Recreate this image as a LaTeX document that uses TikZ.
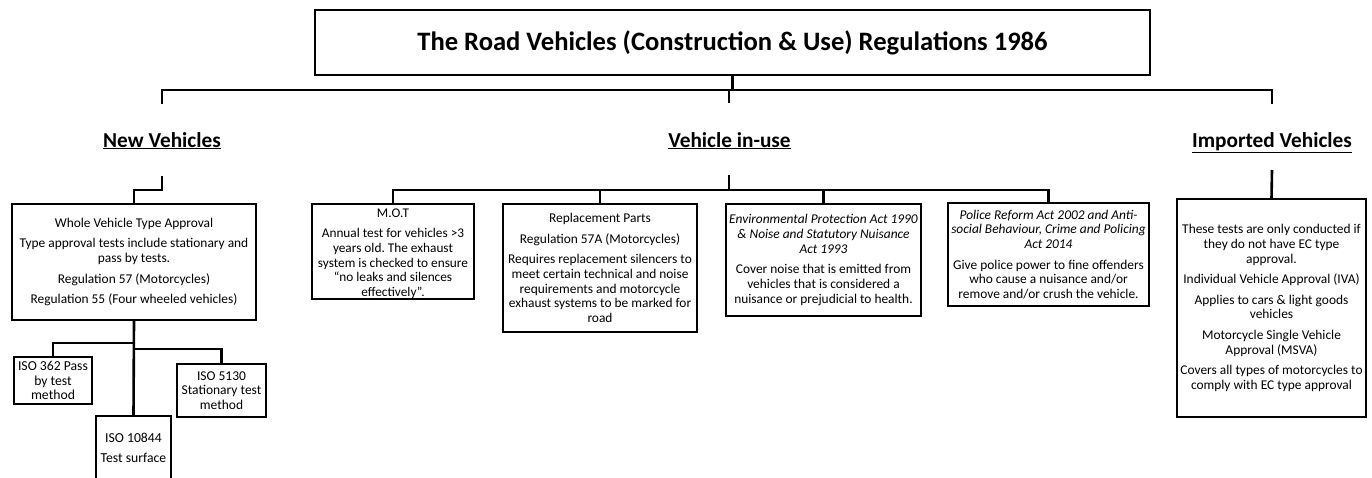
\documentclass[tikz,border=0pt]{standalone}
\usepackage{fontspec}
\setmainfont{Carlito}
\frenchspacing
\tikzset{
  box/.style={draw, line width=2.4pt, inner sep=0pt, align=center,
    font=\fontsize{13.4}{14.75}\selectfont},
  conn/.style={line width=2.6pt},
  head/.style={inner sep=0pt, anchor=base, font=\fontsize{21.3}{24}\selectfont\bfseries},
}
\newcommand{\pg}{\\[5.75pt]}
\begin{document}
\begin{tikzpicture}[x=1pt, y=-1pt]
\useasboundingbox (0,0) rectangle (1372,477);
% title
\node[box, minimum width=835, minimum height=65, font=\fontsize{26.6}{30}\selectfont\bfseries] (title) at (732.5,42.5)
  {The Road Vehicles (Construction \& Use) Regulations 1986};
% headings
\node[head] (nv) at (162,147) {\underline{New Vehicles}};
\node[head] (viu) at (729.5,147) {\underline{Vehicle in-use}};
\node[head] (iv) at (1272,147) {\underline{Imported Vehicles}};
% top bar
\coordinate (h1) at (162,90);
\coordinate (h2) at (729,90);
\coordinate (h3) at (1272,90);
\coordinate (d1) at (162,104);
\coordinate (d2) at (729,103);
\coordinate (d3) at (1272,104);
\draw[conn] (title.south) -- (title.south |- h1);
\draw[conn] (d1) -- (h1) -- (h3) -- (d3);
\draw[conn] (h2) -- (d2);
% new vehicles
\node[box, minimum width=244, minimum height=116] (wvta) at (134,262)
  {Whole Vehicle Type Approval\pg
   Type approval tests include stationary and\\ pass by tests.\pg
   Regulation 57 (Motorcycles)\pg
   Regulation 55 (Four wheeled vehicles)};
\node[box, minimum width=78, minimum height=47, font=\fontsize{13.7}{14.75}\selectfont] (iso362) at (53,380.5)
  {ISO 362 Pass\\by test\\method};
\node[box, minimum width=75, minimum height=64, font=\fontsize{13.7}{14.75}\selectfont] (iso10844) at (133.5,448)
  {ISO 10844\pg Test surface};
\node[box, minimum width=89, minimum height=53, font=\fontsize{13.5}{14.75}\selectfont] (iso5130) at (221.5,390.5)
  {ISO 5130\\Stationary test\\method};
\coordinate (nvb) at (162,176);
\draw[conn] (nvb) -- ++(0,14) -| (wvta.north);
\coordinate (b1) at (0,343);
\coordinate (b2) at (0,349);
\draw[conn] (wvta.south) -- (iso10844.north);
\draw[conn] (wvta.south |- b1) -| (iso362.north);
\draw[conn] (wvta.south |- b2) -| (iso5130.north);
% vehicle in-use
\node[box, minimum width=162, minimum height=95, font=\fontsize{13.3}{14.75}\selectfont] (mot) at (393,251.5)
  {\rule{0pt}{13pt}M.O.T\pg
   Annual test for vehicles >3\\ years old. The exhaust\\ system is checked to ensure\\
   “no leaks and silences\\ effectively”.};
\node[box, minimum width=194, minimum height=128] (rep) at (600,268)
  {Replacement Parts\pg
   Regulation 57A (Motorcycles)\pg
   Requires replacement silencers to\\ meet certain technical and noise\\
   requirements and motorcycle\\ exhaust systems to be marked for\\ road};
\node[box, minimum width=195, minimum height=112] (env) at (823.5,260)
  {\itshape Environmental Protection Act 1990\\ \itshape \& Noise and Statutory Nuisance\\ \itshape Act 1993\pg
   Cover noise that is emitted from\\ vehicles that is considered a\\ nuisance or prejudicial to health.};
\node[box, minimum width=201, minimum height=103] (police) at (1048.5,254.5)
  {\itshape Police Reform Act 2002 and Anti-\\ \itshape social Behaviour, Crime and Policing\\ \itshape Act 2014\pg
   Give police power to fine offenders\\ who cause a nuisance and/or\\ remove and/or crush the vehicle.};
\coordinate (bar) at (0,190);
\coordinate (viub) at (729,175);
\draw[conn] (viub) -- (viub |- bar);
\draw[conn] (mot.north) -- (mot.north |- bar) -- (police.north |- bar) -- (police.north);
\draw[conn] (rep.north) -- (rep.north |- bar);
\draw[conn] (env.north) -- (env.north |- bar);
% imported
\node[box, minimum width=189, minimum height=218] (imp) at (1271.5,308)
  {These tests are only conducted if\\ they do not have EC type\\ approval.\pg
   Individual Vehicle Approval (IVA)\pg
   Applies to cars \& light goods\\ vehicles\pg
   Motorcycle Single Vehicle\\ Approval (MSVA)\pg
   Covers all types of motorcycles to\\ comply with EC type approval};
\coordinate (ivb) at (1272,170);
\draw[conn] (ivb) -- (imp.north);
\end{tikzpicture}
\end{document}
